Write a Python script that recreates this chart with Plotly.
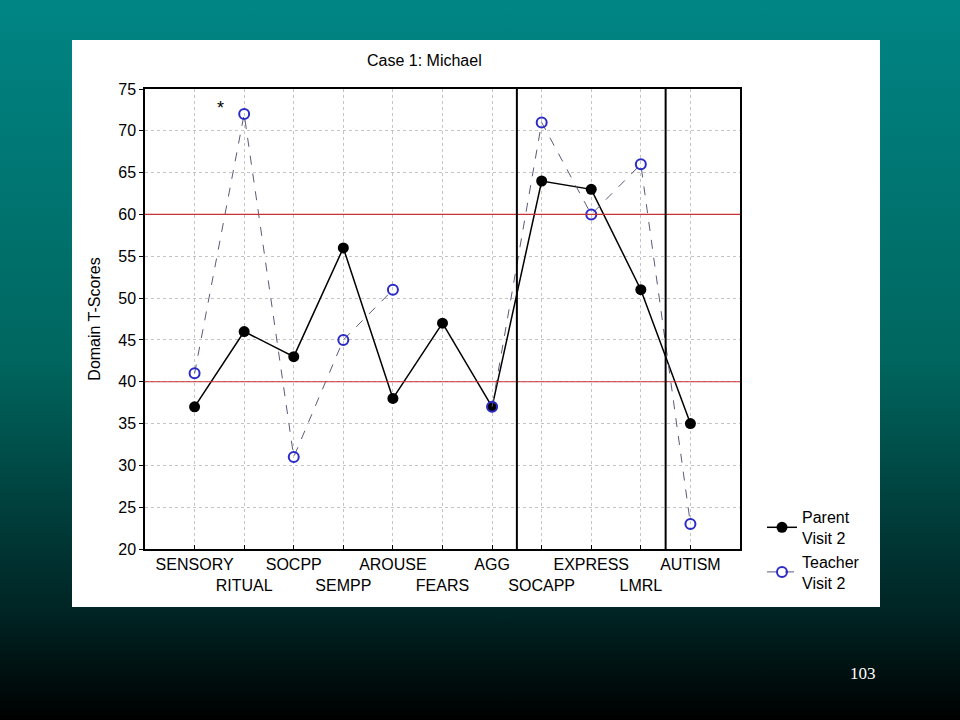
import base64
import plotly.graph_objects as go

categories = ["SENSORY", "RITUAL", "SOCPP", "SEMPP", "AROUSE", "FEARS",
              "AGG", "SOCAPP", "EXPRESS", "LMRL", "AUTISM"]
parent_visit2 = [37, 46, 43, 56, 38, 47, 37, 64, 63, 51, 35]
teacher_visit2 = [41, 72, 31, 45, 51, None, 37, 71, 60, 66, 23]
y_ticks = [20, 25, 30, 35, 40, 45, 50, 55, 60, 65, 70, 75]
cutoffs = [40, 60]
section_breaks = [7.5, 10.5]

positions = list(range(1, len(categories) + 1))
tick_text = [c if i % 2 == 0 else "<br>" + c for i, c in enumerate(categories)]

W, H = 960, 720
L, R, T, B = 145, 740, 89, 549
pw, ph = R - L, B - T


def px(x):
    return (x - L) / pw


def py(y):
    return (B - y) / ph


svg = f'''<svg xmlns="http://www.w3.org/2000/svg" width="{W}" height="{H}" preserveAspectRatio="none">
<defs><linearGradient id="g" x1="0" y1="0" x2="0" y2="1">
<stop offset="0" stop-color="#008585"/>
<stop offset="0.5" stop-color="#00665f"/>
<stop offset="0.86" stop-color="#002222"/>
<stop offset="1" stop-color="#000000"/>
</linearGradient></defs>
<rect width="{W}" height="{H}" fill="url(#g)"/></svg>'''
bg_uri = "data:image/svg+xml;base64," + base64.b64encode(svg.encode()).decode()

font = "Liberation Sans, Arial, sans-serif"
fs = 16

fig = go.Figure()
fig.add_trace(go.Scatter(
    x=positions, y=parent_visit2, name="Parent<br>Visit 2",
    mode="lines+markers",
    line=dict(color="#000000", width=1.5),
    marker=dict(symbol="circle", size=11, color="#000000"),
))
fig.add_trace(go.Scatter(
    x=positions, y=teacher_visit2, name="Teacher<br>Visit 2",
    mode="lines+markers", connectgaps=False,
    line=dict(color="#5a5a7a", width=1, dash="dash"),
    marker=dict(symbol="circle-open", size=10, color="#2b2bc8", line=dict(width=2)),
))

shapes = [
    dict(type="rect", xref="paper", yref="paper", layer="below",
         x0=px(72), x1=px(880), y0=py(607), y1=py(40),
         fillcolor="white", line=dict(width=0)),
]
for c in cutoffs:
    shapes.append(dict(type="line", xref="paper", yref="y", x0=0, x1=1, y0=c, y1=c,
                       line=dict(color="#c83232", width=1.2)))
for s in section_breaks:
    shapes.append(dict(type="line", xref="x", yref="paper", x0=s, x1=s, y0=0, y1=1,
                       line=dict(color="#000000", width=2)))

fig.update_layout(
    width=W, height=H,
    margin=dict(l=L, r=W - R, t=T, b=H - B),
    paper_bgcolor="#005f5c",
    plot_bgcolor="white",
    font=dict(family=font, size=fs, color="#000000"),
    showlegend=True,
    legend=dict(x=px(762), y=py(500), xanchor="left", yanchor="top",
                bgcolor="rgba(0,0,0,0)", font=dict(size=fs, family=font),
                tracegroupgap=2, itemwidth=30),
    images=[dict(source=bg_uri, xref="paper", yref="paper",
                 x=-L / pw, y=B / ph, sizex=W / pw, sizey=H / ph,
                 sizing="stretch", layer="below", xanchor="left", yanchor="top")],
    shapes=shapes,
    annotations=[
        dict(text="Case 1: Michael", xref="paper", yref="paper",
             x=px(424), y=py(60), xanchor="center", yanchor="middle",
             showarrow=False, font=dict(size=fs, family=font)),
        dict(text="*", xref="x", yref="y", x=1.52, y=72.7, xanchor="center",
             yanchor="middle", showarrow=False, font=dict(size=18, family=font)),
        dict(text="103", xref="paper", yref="paper", x=px(863), y=py(673),
             xanchor="center", yanchor="middle", showarrow=False,
             font=dict(size=17, family="Liberation Serif, Times New Roman, serif",
                       color="white")),
    ],
    xaxis=dict(range=[0, 12], tickmode="array", tickvals=positions, ticktext=tick_text,
               tickangle=0,
               showgrid=True, gridcolor="#c4c4c4", griddash="dot", gridwidth=1,
               showline=True, linecolor="#000000", linewidth=1.5, mirror=True,
               ticks="inside", ticklen=4, tickcolor="#000000", zeroline=False,
               tickfont=dict(size=fs, family=font)),
    yaxis=dict(range=[20, 75], tickmode="array", tickvals=y_ticks,
               showgrid=True, gridcolor="#c4c4c4", griddash="dot", gridwidth=1,
               showline=True, linecolor="#000000", linewidth=1.5, mirror=True,
               ticks="outside", ticklen=4, tickcolor="#000000", zeroline=False,
               tickfont=dict(size=fs, family=font),
               title=dict(text="Domain T-Scores", standoff=14,
                          font=dict(size=fs, family=font))),
)

fig.write_html("out.html", config={"displayModeBar": False},
               post_script="document.body.style.margin='0';document.body.style.padding='0';")
